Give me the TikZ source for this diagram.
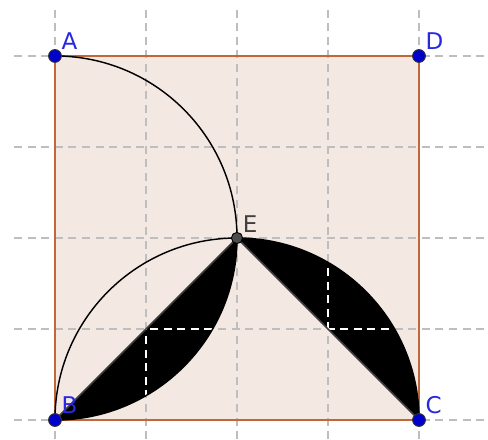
\documentclass[tikz,border=0pt]{standalone}
\usepackage{fontspec}
\setsansfont{DejaVu Sans}
\definecolor{sqfill}{RGB}{244,232,227}
\definecolor{sqedge}{RGB}{192,104,56}
\definecolor{ptblue}{RGB}{0,0,205}
\definecolor{lblblue}{RGB}{40,40,225}
\definecolor{gridgray}{RGB}{190,190,190}

\begin{document}
\begin{tikzpicture}[
    x=2cm, y=2cm,
    font=\sffamily\Large,
    gridline/.style={draw=gridgray, line width=0.9pt, dash pattern=on 5pt off 3.5pt},
    whitegrid/.style={draw=white, line width=0.9pt, dash pattern=on 5pt off 3.5pt},
    square/.style={draw=sqedge, line width=1.4pt},
    arcline/.style={draw=black, line width=0.9pt},
    chord/.style={draw=black!75, line width=1pt},
    pt/.style={circle, draw=black!80, fill=ptblue, inner sep=0pt, minimum size=8pt, line width=0.6pt},
    ptE/.style={circle, draw=black, fill=black!70, inner sep=0pt, minimum size=7pt, line width=0.6pt},
    lbl/.style={text=lblblue, label distance=-3.5pt}
]
\useasboundingbox (-0.604,-0.209) rectangle (4.758,4.615);

% Points
\coordinate (b) at (0,0);
\coordinate (c) at (4,0);
\coordinate (d) at (4,4);
\coordinate (a) at (0,4);
\coordinate (e) at (2,2);

% Square and grid
\fill[sqfill] (b) rectangle (d);
\foreach \i in {0,...,4} {
    \draw[gridline] (\i,-0.21) -- (\i,4.56);
    \draw[gridline] (-0.45,\i) -- (4.76,\i);
}
\draw[square] (b) rectangle (d);

% Black segments
\fill[black] (b) -- (e) arc[start angle=0, end angle=-90, radius=2] -- cycle;
\fill[black] (e) -- (c) arc[start angle=0, end angle=90, radius=2] -- cycle;
\begin{scope}
    \clip (b) -- (e) arc[start angle=0, end angle=-90, radius=2] -- cycle
          (e) -- (c) arc[start angle=0, end angle=90, radius=2] -- cycle;
    \foreach \i in {1,...,3} {
        \draw[whitegrid] (\i,-0.21) -- (\i,4.56);
        \draw[whitegrid] (-0.45,\i) -- (4.76,\i);
    }
\end{scope}

% Arcs
\draw[arcline] (a) arc[start angle=90, end angle=-90, radius=2];
\draw[arcline] (b) arc[start angle=180, end angle=0, radius=2];

% Chords
\draw[chord] (b) -- (e);
\draw[chord] (e) -- (c);

% Nodes
\node[pt, label={[lbl]above right:A}] (A) at (a) {};
\node[pt, label={[lbl]above right:D}] (D) at (d) {};
\node[pt, label={[lbl]above right:B}] (B) at (b) {};
\node[pt, label={[lbl]above right:C}] (C) at (c) {};
\node[ptE, label={[lbl, text=black!75]above right:E}] (E) at (e) {};

\end{tikzpicture}
\end{document}
